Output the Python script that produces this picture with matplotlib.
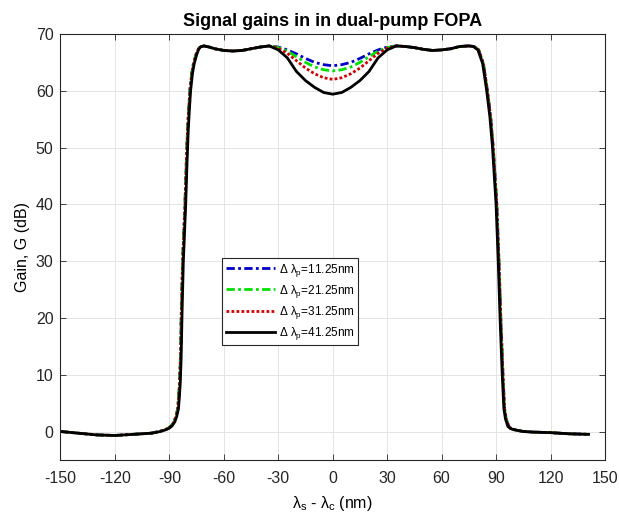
import matplotlib
matplotlib.use("Agg")
import matplotlib.pyplot as plt

plt.rcParams['font.family'] = ['Liberation Sans', 'DejaVu Sans']
plt.rcParams['mathtext.fontset'] = 'custom'
plt.rcParams['mathtext.rm'] = 'Liberation Sans'
plt.rcParams['mathtext.it'] = 'Liberation Sans'
plt.rcParams['axes.unicode_minus'] = False

# ---------------------------------------------------------------------------
# Gain curves (dB vs detuning in nm)
# ---------------------------------------------------------------------------
# left skirt, rising edge and left plateau (gain shared, edge x slightly
# wider for the coloured curves than for the black one)
g_rise = [0.0, -0.3, -0.6, -0.7, -0.5, -0.3, 0.0, 0.3, 0.6, 1.0, 1.7, 2.6,
          4.0, 6.0, 8.5, 13.0, 21.0, 30.0, 40.0, 47.0, 53.0, 56.5, 60.0,
          63.0, 64.8, 66.3, 67.2, 67.7, 67.9, 67.7, 67.4, 67.1, 67.0, 67.1,
          67.4, 67.7, 67.9]
x_rise_black = [-150, -140, -130, -120, -110, -100, -95, -92, -90, -88.5,
                -87, -86, -85, -84.5, -84, -83.5, -83, -82.3, -81, -80.3,
                -79.6, -79, -78.3, -77.3, -76.3, -75, -74, -73, -71, -68,
                -65, -60, -55, -50, -45, -40, -35]
x_rise_color = [-150, -140, -130, -120, -110, -100, -95.5, -92.5, -90.5,
                -89, -87.5, -86.4, -85.4, -84.9, -84.4, -83.9, -83.4, -82.7,
                -81.4, -80.7, -80, -79.4, -78.7, -77.7, -76.7, -75.4, -74.3,
                -73.2, -71, -68, -65, -60, -55, -50, -45, -40, -35]

# central dip, different for each pump spacing
x_dip = [-30, -25, -20, -15, -10, -5, 0, 5, 10, 15, 20, 25, 30]
g_dip_11 = [67.7, 67.2, 66.5, 65.7, 65.0, 64.6, 64.4, 64.6, 65.0, 65.7,
            66.5, 67.2, 67.7]
g_dip_21 = [67.6, 67.0, 66.0, 65.0, 64.2, 63.7, 63.5, 63.7, 64.2, 65.0,
            66.0, 67.0, 67.6]
g_dip_31 = [67.5, 66.6, 65.3, 64.0, 63.0, 62.3, 62.0, 62.3, 63.0, 64.0,
            65.3, 66.6, 67.5]
g_dip_41 = [67.2, 65.8, 63.4, 61.8, 60.6, 59.7, 59.4, 59.7, 60.6, 61.8,
            63.4, 65.8, 67.2]

# right plateau, falling edge and right skirt
g_fall = [67.9, 67.8, 67.6, 67.3, 67.1, 67.2, 67.4, 67.8, 67.9, 67.8, 67.2,
          64.8, 60.1, 55.4, 50.2, 40.0, 30.0, 20.0, 10.0, 4.0, 2.2, 0.9, 0.5,
          0.3, 0.0, -0.1, -0.2, -0.4, -0.5]
x_fall_black = [35, 40, 45, 50, 55, 60, 65, 70, 75, 77.5, 80, 82.6, 84.8,
                86.6, 88, 90, 91.2, 92.2, 93.4, 94.3, 95.2, 96.5, 98, 100,
                105, 110, 120, 130, 141]
x_fall_color = [35, 40, 45, 50, 55, 60, 65, 70, 75, 77.8, 80.4, 83, 85.2,
                87, 88.4, 90.4, 91.6, 92.6, 93.8, 94.7, 95.6, 97, 98.5, 100.5,
                105, 110, 120, 130, 141]

labels = [r'$\Delta\ \lambda_p$=11.25nm', r'$\Delta\ \lambda_p$=21.25nm',
          r'$\Delta\ \lambda_p$=31.25nm', r'$\Delta\ \lambda_p$=41.25nm']
dips = [g_dip_11, g_dip_21, g_dip_31, g_dip_41]
colors = ['#0000c8', '#00e000', '#d00000', 'black']
styles = [(0, (3.0, 1.2, 1.0, 1.2)), (0, (3.0, 1.2, 1.0, 1.2)),
          (0, (1.0, 0.8)), '-']

# ---------------------------------------------------------------------------
# Plot
# ---------------------------------------------------------------------------
fig = plt.figure(figsize=(6.19, 5.15), dpi=100)
ax = fig.add_axes([0.0977, 0.107, 0.8796, 0.827])

for i in range(4):
    xr = x_rise_black if i == 3 else x_rise_color
    xf = x_fall_black if i == 3 else x_fall_color
    ax.plot(xr + x_dip + xf, g_rise + dips[i] + g_fall, color=colors[i],
            linestyle=styles[i], linewidth=2.0, label=labels[i])

ax.set_xlim(-150, 150)
ax.set_ylim(-5, 70)
ax.set_xticks(range(-150, 151, 30))
ax.set_yticks(range(0, 71, 10))
ax.tick_params(direction='in', top=True, right=True, length=4, width=0.6,
               labelsize=11.5, colors='#262626')
ax.tick_params(axis='x', pad=8)
ax.tick_params(axis='y', pad=5)
for s in ax.spines.values():
    s.set_color('#262626')
    s.set_linewidth(0.8)
ax.grid(True, color='#e4e4e4', linewidth=0.7)
ax.set_axisbelow(True)

ax.set_title("Signal gains in in dual-pump FOPA", fontsize=13,
             fontweight='bold', pad=6)
ax.set_ylabel("Gain, G (dB)", fontsize=11.5, labelpad=4)
ax.set_xlabel(r'$\lambda_s$ - $\lambda_c$ (nm)', fontsize=11.5, labelpad=6)

leg = ax.legend(loc='upper left', bbox_to_anchor=(0.2966, 0.474),
                fontsize=8.5, frameon=True, fancybox=False, framealpha=1,
                edgecolor='#262626', handlelength=4.2, handletextpad=0.3,
                labelspacing=0.35, borderpad=0.3, borderaxespad=0)
leg.get_frame().set_linewidth(0.8)

fig.savefig("out.png", dpi=100)
